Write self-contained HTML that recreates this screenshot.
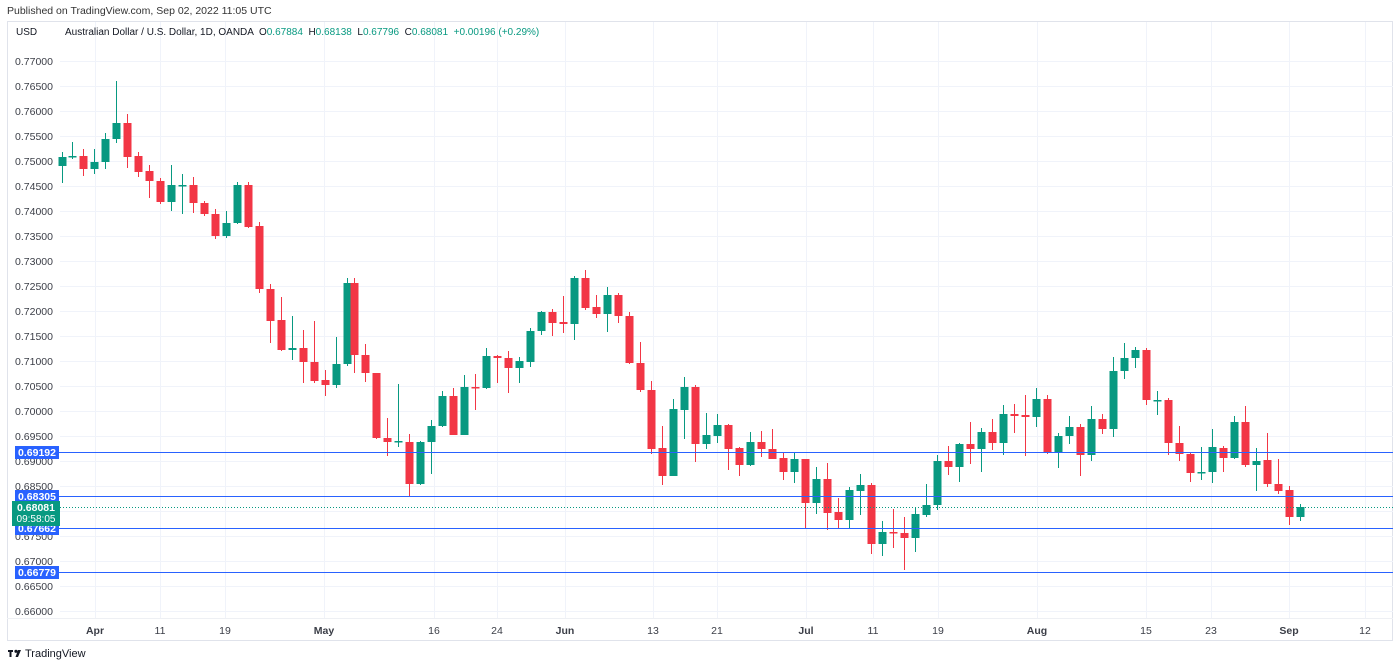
<!DOCTYPE html>
<html><head><meta charset="utf-8">
<style>
html,body{margin:0;padding:0;background:#fff;width:1400px;height:667px;overflow:hidden;font-family:"Liberation Sans",sans-serif;}
</style></head>
<body>
<svg id="s" width="1400" height="667" xmlns="http://www.w3.org/2000/svg" style="position:absolute;left:0;top:0">
<text x="7" y="14" font-size="10.5" fill="#333">Published on TradingView.com, Sep 02, 2022 11:05 UTC</text>
<rect x="7.5" y="21.5" width="1385" height="619" fill="none" stroke="#e0e3eb"/>
<g id="grid"></g>
<text x="16" y="35" font-size="10" fill="#131722">USD</text>
<text x="65" y="35" font-size="10" fill="#131722" xml:space="preserve">Australian Dollar / U.S. Dollar, 1D, OANDA  O<tspan fill="#089981">0.67884</tspan>  H<tspan fill="#089981">0.68138</tspan>  L<tspan fill="#089981">0.67796</tspan>  C<tspan fill="#089981">0.68081</tspan>  <tspan fill="#089981">+0.00196 (+0.29%)</tspan></text>
<g id="c"></g>
<g id="lv"></g>
<line x1="7" y1="618.5" x2="1393" y2="618.5" stroke="#eef0f4"/>
<g font-size="10.5" fill="#3b3e47" text-anchor="middle" id="dates"></g>
<g transform="translate(8,648)"><rect x="0" y="2" width="5" height="2" fill="#131722"/><rect x="1.5" y="2" width="2" height="7" fill="#131722"/><circle cx="8" cy="3.3" r="1.6" fill="#131722"/><path d="M10 2 L13 2 L10 9 L7.5 9 Z" fill="#131722"/></g>
<text x="25" y="657" font-size="11" fill="#131722">TradingView</text>
</svg>
<script>
var NS="http://www.w3.org/2000/svg";
function el(p,t,a,txt){var e=document.createElementNS(NS,t);for(var k in a)e.setAttribute(k,a[k]);if(txt!=null)e.textContent=txt;document.getElementById(p).appendChild(e);return e;}
var vx=[95,160,225,324,434,497,565,653,717,806,873,938,1037,1146,1211,1289,1365];
var vl=["Apr","11","19","May","16","24","Jun","13","21","Jul","11","19","Aug","15","23","Sep","12"];
for(var i=0;i<vx.length;i++){el("grid","line",{x1:vx[i]+.5,y1:22,x2:vx[i]+.5,y2:618,stroke:"#f0f3fa"});
var b=isNaN(+vl[i]);el("dates","text",{x:vx[i],y:634,"font-weight":b?"bold":"normal"},vl[i]);}
for(var k=0;k<=22;k++){var y=61+25*k;el("grid","line",{x1:60,y1:y+.5,x2:1393,y2:y+.5,stroke:"#f0f3fa"});
var p=(0.77-0.005*k).toFixed(5);el("grid","text",{x:53,y:y+4,"font-size":10.5,fill:"#3b3e47","text-anchor":"end"},p);}
var G="#089981",R="#F23645";
var d=[[62,G,157,166,152,183],[72,G,156,157,142,159],[83,R,156,169,149,176],[94,G,162,169,149,174],[105,G,139,162,133,169],[116,G,123,139,81,143],[127,R,123,157,114,168],[138,R,156,172,152,177],[149,R,171,181,165,198],[160,R,181,202,178,204],[171,G,185,202,165,211],[182,G,185,186,174,214],[193,R,185,203,177,213],[204,R,203,214,201,216],[215,R,214,236,209,239],[226,G,223,236,211,238],[237,G,185,223,182,224],[248,R,185,227,182,228],[259,R,226,289,222,293],[270,R,289,321,284,343],[281,R,320,350,297,351],[292,G,348,350,316,360],[303,R,348,362,330,383],[314,R,362,381,321,383],[325,R,380,385,370,396],[336,G,364,385,337,388],[347,G,283,364,278,366],[354,R,283,355,278,373],[365,R,355,373,344,382],[376,R,373,438,373,439],[387,R,438,442,418,456],[398,G,441,442,384,447],[409,R,442,484,434,496],[420,G,442,484,441,485],[431,G,426,442,420,474],[442,G,396,426,391,427],[453,R,396,435,388,435],[464,G,387,435,375,435],[475,R,387,388,374,410],[486,G,356,388,348,389],[497,R,356,358,355,383],[508,R,358,368,351,393],[519,G,361,368,357,383],[530,G,331,362,328,367],[541,G,312,331,311,335],[552,R,312,323,309,336],[563,R,322,324,296,333],[574,G,278,324,276,340],[585,R,278,308,270,310],[596,R,307,314,295,318],[607,G,295,314,287,332],[618,R,295,316,293,323],[629,R,316,363,312,364],[640,R,363,390,342,392],[651,R,390,449,381,454],[662,R,448,476,426,485],[673,G,409,476,399,476],[684,G,387,410,377,439],[695,R,387,444,385,462],[706,G,435,444,413,449],[717,G,425,436,414,443],[728,R,425,449,424,470],[739,R,448,465,447,476],[750,G,442,465,432,466],[761,R,442,449,431,457],[772,R,449,459,429,459],[783,R,458,472,452,480],[794,G,459,472,452,483],[805,R,459,503,459,528],[816,G,479,503,467,514],[827,R,479,513,463,530],[838,R,512,520,498,529],[849,G,490,520,487,528],[860,G,485,491,474,515],[871,R,485,544,483,554],[882,G,532,544,521,556],[893,R,532,533,509,548],[904,R,533,538,517,570],[915,G,514,538,507,552],[926,G,505,515,484,517],[937,G,461,505,455,510],[948,R,461,467,446,475],[959,G,444,467,443,482],[970,R,444,449,422,464],[981,G,432,449,428,472],[992,R,432,443,419,450],[1003,G,414,443,405,455],[1014,R,414,416,404,433],[1025,R,415,417,395,456],[1036,G,399,417,388,427],[1047,R,399,453,395,454],[1058,G,436,453,433,468],[1069,G,427,436,416,444],[1080,R,427,455,424,476],[1091,G,419,455,406,461],[1102,R,419,429,414,434],[1113,G,371,429,357,437],[1124,G,358,371,343,379],[1135,G,350,358,347,368],[1146,R,350,400,348,405],[1157,G,400,401,391,415],[1168,R,400,443,398,455],[1179,R,443,454,426,461],[1190,R,454,473,452,482],[1201,G,472,473,447,480],[1212,G,447,472,429,483],[1223,R,448,458,446,472],[1234,G,422,458,416,459],[1245,R,422,465,406,467],[1256,G,461,465,448,491],[1267,R,460,484,433,487],[1278,R,484,491,459,494],[1289,R,490,517,486,525],[1300,G,507,517,504,521]];
d.forEach(function(c){el("c","line",{x1:c[0]+.5,y1:c[4],x2:c[0]+.5,y2:c[5],stroke:c[1],"stroke-width":1});
el("c","rect",{x:c[0]-3.5,y:c[2],width:8,height:Math.max(1.5,c[3]-c[2]),fill:c[1]});});
var lv=[[452,"0.69192"],[496,"0.68305"],[528,"0.67662"],[572,"0.66779"]];
lv.forEach(function(l){el("lv","line",{x1:58,y1:l[0]+.5,x2:1393,y2:l[0]+.5,stroke:"#2962ff","stroke-width":1});
el("lv","rect",{x:15,y:l[0]-6,width:44,height:13,fill:"#2962ff"});
el("lv","text",{x:37,y:l[0]+4,"font-size":10.5,fill:"#fff","text-anchor":"middle","font-weight":"bold"},l[1]);});
el("lv","line",{x1:60,y1:507.5,x2:1393,y2:507.5,stroke:"#089981","stroke-dasharray":"1,2"});
el("lv","rect",{x:12,y:501,width:48,height:25,fill:"#089981"});
el("lv","text",{x:36,y:511,"font-size":10.5,fill:"#fff","text-anchor":"middle","font-weight":"bold"},"0.68081");
el("lv","text",{x:36,y:522,"font-size":10,fill:"#fff","text-anchor":"middle"},"09:58:05");
</script>
</body></html>
